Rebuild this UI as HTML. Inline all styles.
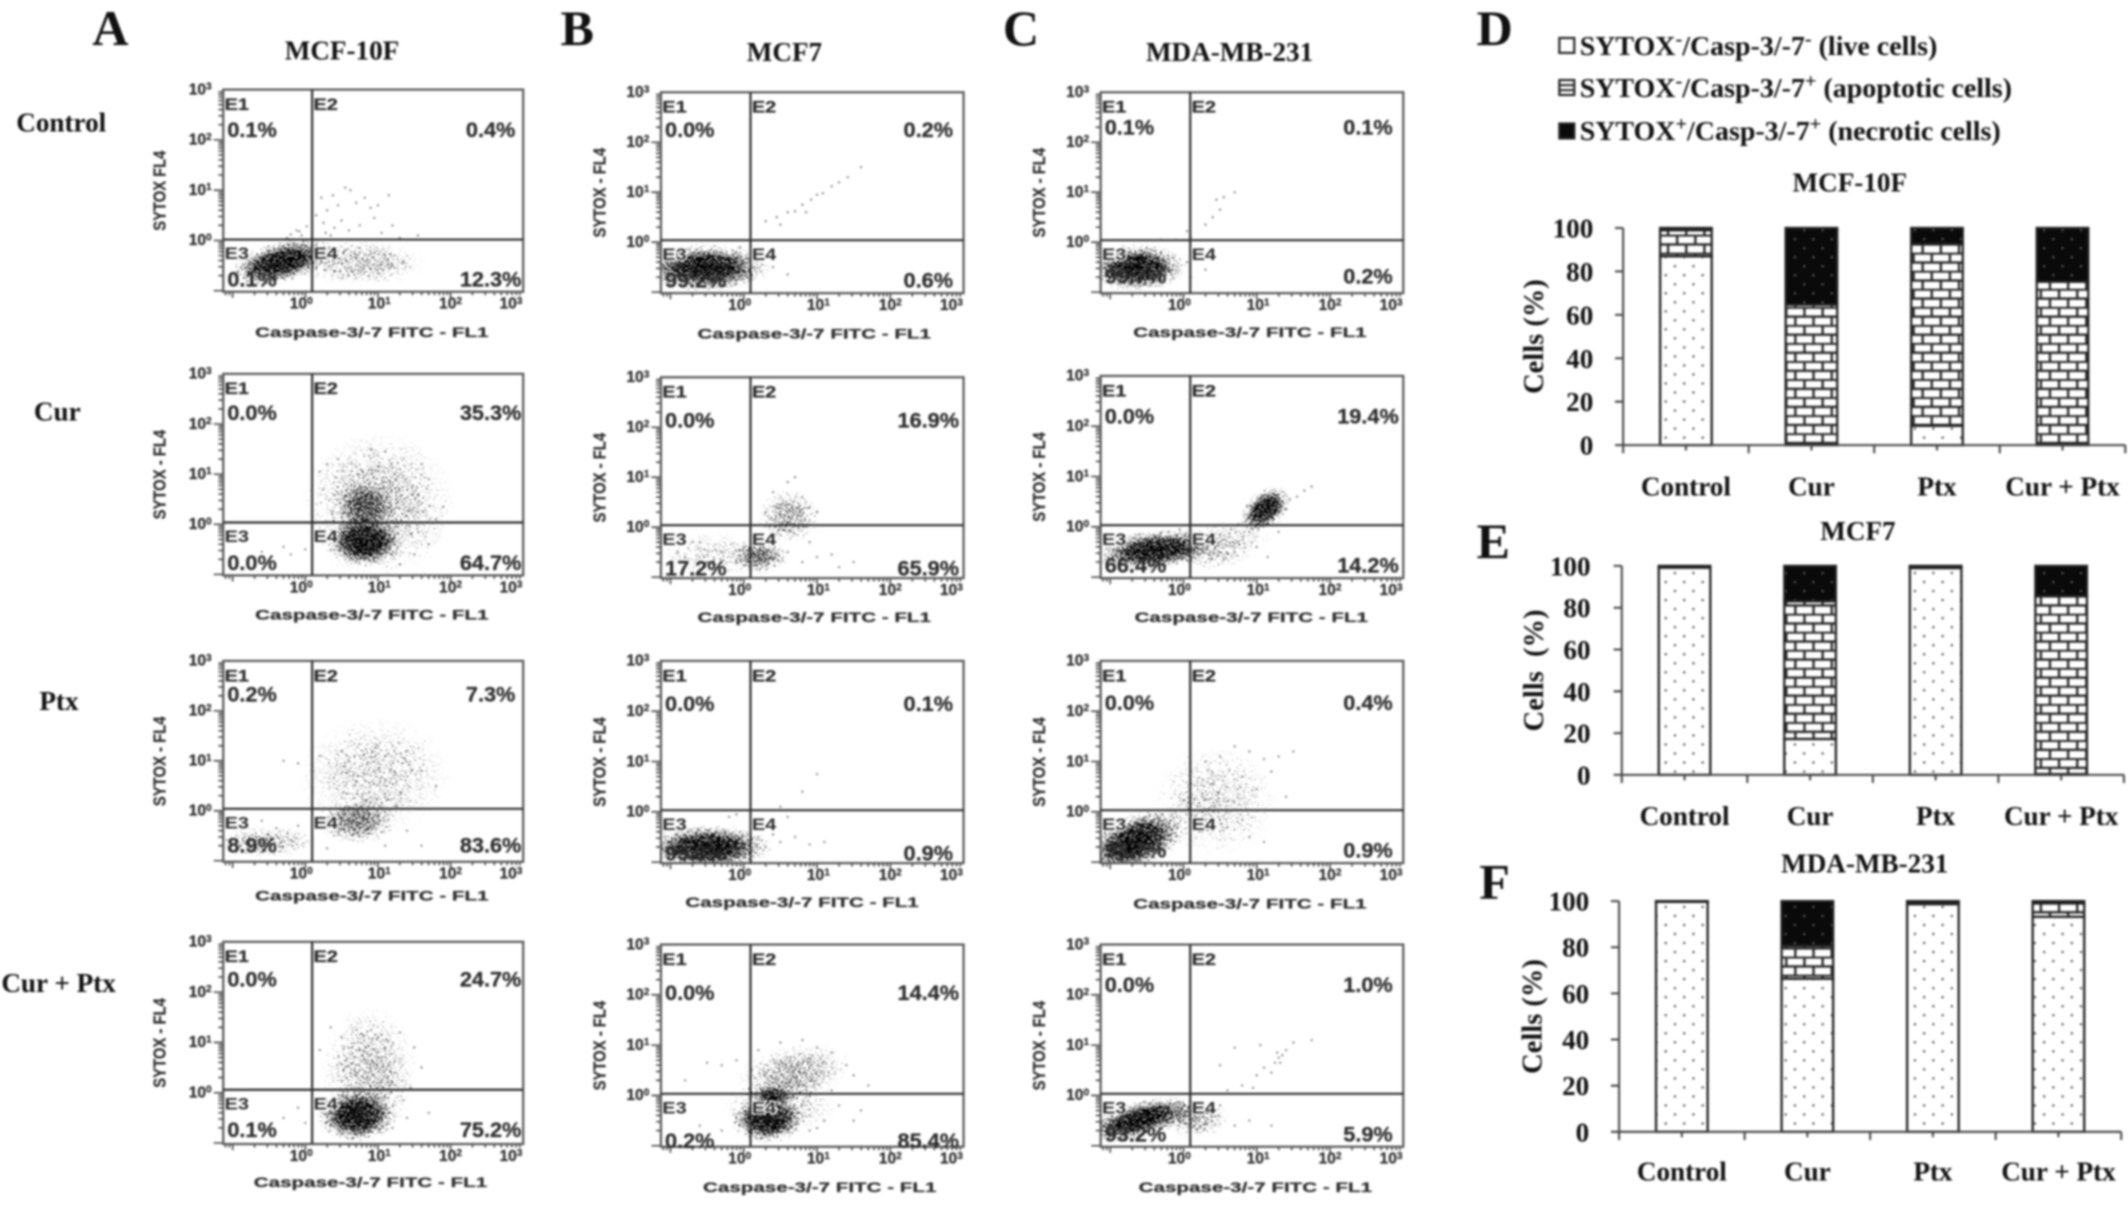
<!DOCTYPE html>
<html lang="en">
<head>
<meta charset="utf-8">
<title>Flow cytometry of SYTOX / Caspase-3/-7 and stacked cell-fraction bars</title>
<style>
html,body{margin:0;padding:0;background:#fff;width:2128px;height:1207px;overflow:hidden}
#figure{display:block;width:2128px;height:1207px;filter:blur(1.05px)}
.serif{font-family:"Liberation Serif",serif;font-weight:bold;fill:#111}
.sans{font-family:"Liberation Sans",sans-serif;font-weight:bold;fill:#2c2c2c;stroke:#2c2c2c;stroke-width:0.18px}
</style>
</head>
<body>
<svg id="figure" xmlns="http://www.w3.org/2000/svg" viewBox="0 0 1568 889.4" preserveAspectRatio="none">
  <defs id="defs">
    <filter id="grain" filterUnits="userSpaceOnUse" x="0" y="0" width="1568" height="890" color-interpolation-filters="sRGB">
      <feTurbulence type="fractalNoise" baseFrequency="0.85" numOctaves="1" seed="7" result="n"/>
      <feColorMatrix in="n" type="matrix" values="0 0 0 0 0  0 0 0 0 0  0 0 0 0 0  2.6 0 0 0 -0.8" result="na"/>
      <feComposite in="SourceAlpha" in2="na" operator="arithmetic" k1="0" k2="1" k3="1" k4="-1" result="sum"/>
      <feComponentTransfer in="sum"><feFuncA type="linear" slope="5" intercept="0"/></feComponentTransfer>
    </filter>
    <radialGradient id="clusterFade">
      <stop offset="0" stop-color="#000" stop-opacity="1"/>
      <stop offset="0.45" stop-color="#000" stop-opacity="0.8"/>
      <stop offset="0.75" stop-color="#000" stop-opacity="0.32"/>
      <stop offset="1" stop-color="#000" stop-opacity="0"/>
    </radialGradient>
    <pattern id="dotsPattern" patternUnits="userSpaceOnUse" width="13.6" height="13.3">
      <rect width="13.6" height="13.3" fill="#fff"/>
      <circle cx="3.4" cy="3.3" r="0.85" fill="#444"/>
      <circle cx="10.2" cy="9.95" r="0.85" fill="#444"/>
    </pattern>
    <pattern id="bricksPattern" patternUnits="userSpaceOnUse" width="13.4" height="13.3">
      <rect width="13.4" height="13.3" fill="#fff"/>
      <path d="M0 0.6H13.4M0 7.25H13.4M3 0.6V7.25M9.7 7.25V13.3" stroke="#222" stroke-width="1.7" fill="none"/>
    </pattern>
    <pattern id="necroticPattern" patternUnits="userSpaceOnUse" width="13.6" height="13.3">
      <rect width="13.6" height="13.3" fill="#0a0a0a"/>
      <circle cx="3.4" cy="3.3" r="0.7" fill="#888"/>
      <circle cx="10.2" cy="9.95" r="0.7" fill="#888"/>
    </pattern>
  </defs>

  <rect width="1568" height="890" fill="#fff"/>
  <g id="clusterLayer" filter="url(#grain)"></g>
  <g id="flowLayer"></g>
  <g id="barLayer"></g>

  <g class="serif" font-size="37">
    <text class="serif" x="68" y="33">A</text>
    <text class="serif" x="413" y="33">B</text>
    <text class="serif" x="739" y="33">C</text>
    <text class="serif" x="1088" y="33">D</text>
    <text class="serif" x="1088" y="411">E</text>
    <text class="serif" x="1090" y="662">F</text>
  </g>
  <g font-size="20" text-anchor="middle">
    <text class="serif" x="252" y="44">MCF-10F</text>
    <text class="serif" x="578" y="45">MCF7</text>
    <text class="serif" x="906" y="45">MDA-MB-231</text>
    <text class="serif" x="1363" y="141">MCF-10F</text>
    <text class="serif" x="1369" y="398">MCF7</text>
    <text class="serif" x="1374" y="643">MDA-MB-231</text>
  </g>
  <g font-size="20">
    <text class="serif" x="12" y="97">Control</text>
    <text class="serif" x="25" y="310">Cur</text>
    <text class="serif" x="29" y="523">Ptx</text>
    <text class="serif" x="1" y="731">Cur + Ptx</text>
  </g>
  <g font-size="20.6">
    <rect x="1149" y="28" width="11" height="11" fill="#fff" stroke="#222" stroke-width="1.6"/>
    <text class="serif" x="1164" y="40.5">SYTOX<tspan dy="-7" font-size="15">-</tspan><tspan dy="7">/Casp-3/-7</tspan><tspan dy="-7" font-size="15">-</tspan><tspan dy="7"> (live cells)</tspan></text>
    <rect x="1149" y="59" width="11" height="11" fill="#fff" stroke="#222" stroke-width="1.6"/>
    <path d="M1149 62.7H1160M1149 66.4H1160" stroke="#222" stroke-width="1.5"/>
    <text class="serif" x="1164" y="71.5">SYTOX<tspan dy="-7" font-size="15">-</tspan><tspan dy="7">/Casp-3/-7</tspan><tspan dy="-7" font-size="15">+</tspan><tspan dy="7"> (apoptotic cells)</tspan></text>
    <rect x="1149" y="91" width="11" height="11" fill="#0a0a0a" stroke="#222" stroke-width="1.6"/>
    <text class="serif" x="1164" y="103">SYTOX<tspan dy="-7" font-size="15">+</tspan><tspan dy="7">/Casp-3/-7</tspan><tspan dy="-7" font-size="15">+</tspan><tspan dy="7"> (necrotic cells)</tspan></text>
  </g>
</svg>

<script>
/* ---------- flow-cytometry data (log10 decades) ---------- */
const flowPanelIds = ['a-control','a-cur','a-ptx','a-cur-ptx','b-control','b-cur','b-ptx','b-cur-ptx','c-control','c-cur','c-ptx','c-cur-ptx'];
const quadrantLabels = ['E1','E2','E3','E4'];
const xTickExponents = ['0','1','2','3'];
const yTickExponents = ['0','1','2','3'];
const minorMultipliers = [2,3,4,5,6,7,8,9];
const xAxisTitle = 'Caspase-3/-7 FITC - FL1';
const yAxisTitles = ['SYTOX FL4','SYTOX - FL4','SYTOX - FL4','SYTOX - FL4','SYTOX - FL4','SYTOX - FL4','SYTOX - FL4','SYTOX - FL4','SYTOX - FL4','SYTOX - FL4','SYTOX - FL4','SYTOX - FL4'];

const percentE1 = ['0.1%','0.0%','0.2%','0.0%','0.0%','0.0%','0.0%','0.0%','0.1%','0.0%','0.0%','0.0%'];
const percentE2 = ['0.4%','35.3%','7.3%','24.7%','0.2%','16.9%','0.1%','14.4%','0.1%','19.4%','0.4%','1.0%'];
const percentE3 = ['0.1%','0.0%','8.9%','0.1%','99.2%','17.2%','99.0%','0.2%','99.7%','66.4%','98.7%','93.2%'];
const percentE4 = ['12.3%','64.7%','83.6%','75.2%','0.6%','65.9%','0.9%','85.4%','0.2%','14.2%','0.9%','5.9%'];

/* density clouds: centre (decades) */
const cloudX = [[-0.33,0.75],[0.81,0.82,1.0],[0.7,0.95,-0.55],[0.7,0.89],[-0.52],[0.23,0.62,-0.4],[-0.48],[0.32,0.69,0.4,0.5],[-0.63],[-0.4,1.12,0.35,0.6],[-0.66,0.43],[-0.6,0.15]];
const cloudY = [[-0.43,-0.45],[-0.35,0.35,0.4],[-0.22,0.72,-0.62],[-0.46,0.4],[-0.51],[-0.59,0.21,-0.55],[-0.7],[-0.48,0.45,0,-0.2],[-0.51],[-0.46,0.35,-0.46,-0.2],[-0.59,0.21],[-0.48,-0.45]];
/* density clouds: spread (decades), tilt (deg), density 0-1 */
const cloudSpreadX = [[0.56,0.7],[0.4,0.3,0.8],[0.42,0.8,0.55],[0.42,0.5],[0.68],[0.3,0.32,0.6],[0.66],[0.38,0.6,0.22,0.6],[0.52],[0.62,0.3,0.48,0.5],[0.56,0.65],[0.6,0.36]];
const cloudSpreadY = [[0.32,0.34],[0.38,0.4,1.1],[0.34,0.9,0.24],[0.4,1.0],[0.36],[0.26,0.42,0.35],[0.34],[0.36,0.42,0.14,0.45],[0.36],[0.3,0.28,0.3,0.25],[0.42,0.85],[0.28,0.3]];
const cloudTilt = [[-14,0],[0,0,0],[0,0,0],[0,0],[0],[0,0,0],[0],[0,-10,0,0],[0],[-6,-38,0,0],[-22,0],[-16,0]];
const cloudDensity = [[1,0.36],[1,0.6,0.36],[0.56,0.27,0.38],[1,0.36],[1],[0.6,0.46,0.22],[1],[1,0.42,0.85,0.3],[1],[1,1,0.34,0.2],[1,0.25],[1,0.46]];

/* individual outlying events */
const eventsX = [
 [0.25,0.3,0.38,0.45,0.55,0.62,0.7,0.82,0.9,1.0,1.15,0.28,0.4,0.5,0.35,0.6,0.75,1.05,1.3,1.55,0.95,1.2,-0.05,-0.12,-0.2,-0.25,0.02,-0.08,0.15,0.22,0.4,0.6,0.8,1,1.2,1.35,0.55,0.75,0.95,1.1],
 [-0.6,-0.3,-0.2,0,0.1,1.8,1.9,1.7,0.2,0.9,1.1,1.6,1.5,1.7,1.3,1.45,0.3,0.45,0.25,1.55],
 [0.2,-0.3,-0.1,0.5,1,1.4,1.6,1.8,-0.6,-0.9,-0.1,1.4,1.6,1.1,1.25,0.1,-0.4,0.3],
 [0.5,0.8,1,1.3,1.5,1.6,1.2,-0.6,-0.3,0,-0.1,1.4,1.7,1.2,0.2,0.35,1.35,1.45],
 [0.3,0.45,0.6,0.7,0.8,0.92,1,1.08,1.2,1.3,1.42,1.6,0.5,0.85,-0.1,0.1,0.25,0.4,0.6,-0.05],
 [-0.8,-0.5,-0.3,-0.1,0,-0.6,0.1,0.6,0.8,1,1.2,1.5,0.9,0.4,0.6,0.8,0.9,1,0.7,0.3,-0.9,-0.7,1.3],
 [0.2,0.3,0.5,0.7,0.9,0.35,0.5,0.8,1.0,0.6,1.1,-0.2,-0.1,0.15,0.4],
 [-0.3,-0.1,0.2,0.5,0.8,1,1.2,1.4,1.5,1.7,1.3,1.5,1.1,0.9,-0.6,-0.3,-0.1,-0.8,-0.5,1.6,1.2,1.0],
 [0.45,0.55,0.7,0.5,0.4,0.3,0.1,0.05,-0.1,-0.3,0.2,0.3,0.05,0.1],
 [0.5,0.65,0.75,0.85,0.95,1.3,1.45,1.55,1.65,1.75,1.4,1.2,0.3,0.7,1,1.15,1.3,1.05,-0.6,-0.2,-0.05,0.9,0.55],
 [0.1,0.3,0.5,0.7,0.9,1.1,1.3,1.5,1.2,0.8,0.4,1,1.4,0.6,0.9,1.1],
 [0.6,0.8,1,1.1,1.25,1.3,1.35,1.4,1.2,0.95,1.5,0.5,0.7,1.05,1.75,0.5,0.9,1.2,0.7,1.32,1.28]
];
const eventsY = [
 [0.35,0.6,0.9,0.7,1.05,1.0,0.75,0.85,0.65,0.7,0.9,0.15,0.25,0.4,0.1,0.2,0.3,0.15,0.05,0.1,0.45,0.3,0.1,0.2,0.12,0.05,0.28,0.18,0.5,0.85,-0.6,-0.7,-0.55,-0.65,-0.5,-0.42,-0.2,-0.15,-0.25,-0.3],
 [-0.55,-0.45,-0.6,-0.5,-0.3,0.1,0.35,0.9,1.05,1.5,1.45,1.2,-0.6,-0.4,-0.8,-0.2,1.2,1.3,0.7,0.6],
 [1.1,1,0.95,1.2,1.3,1.2,0.8,0.5,-0.2,-0.7,-0.3,-0.4,-0.7,-0.7,0.1,0.4,-0.35,-0.75],
 [1.1,1.15,1.1,1.2,0.9,0.5,0.2,-0.7,-0.5,-0.6,-0.3,-0.5,-0.4,-0.7,0.85,1.3,-0.15,0.1],
 [0.42,0.5,0.6,0.62,0.75,0.85,0.95,0.98,1.12,1.2,1.3,1.5,0.35,0.6,-0.2,-0.6,-0.45,-0.5,-0.65,-0.1],
 [-0.6,-0.7,-0.5,-0.7,-0.4,-0.3,-0.2,-0.5,-0.7,-0.6,-0.55,-0.7,-0.3,0.7,0.9,0.6,0.4,0.3,1,0.3,-0.5,-0.3,-0.8],
 [-0.5,-0.7,-0.6,-0.5,-0.65,-0.3,0.1,0.4,0.75,-0.1,-0.6,-0.1,-0.05,-0.2,-0.45],
 [0.6,0.7,0.9,1.05,1.1,0.95,0.85,0.6,0.4,0.2,-0.2,-0.5,-0.5,-0.7,-0.6,-0.7,-0.45,0.3,0.65,-0.3,0.1,-0.65],
 [0.85,0.9,1,0.65,0.5,0.35,0.1,0.22,0.05,0.05,-0.35,-0.55,-0.4,-0.7],
 [-0.15,-0.05,0.05,0.1,0.2,0.45,0.55,0.6,0.72,0.8,0.35,0.6,-0.3,-0.5,-0.4,-0.6,-0.1,0.55,-0.15,-0.1,-0.05,-0.1,-0.65],
 [0.8,1,1.1,1.3,1.2,1.05,1.1,1.2,0.8,0.7,0.55,0.45,0.3,-0.3,-0.5,-0.6],
 [0.1,0.2,0.4,0.55,0.65,0.75,0.8,0.9,0.45,0.15,1.05,0.6,0.95,1,1.1,-0.2,-0.5,-0.6,-0.6,0.65,0.85]
];

/* ---------- stacked-bar data (% of cells) ---------- */
const barCategories = ['Control','Cur','Ptx','Cur + Ptx'];
const barAxisTicks = [0,20,40,60,80,100];
const liveD = [87,0.3,8.9,0.3];
const apoptoticD = [12,64.4,83.8,75];
const necroticD = [1,35.3,7.3,24.7];
const liveE = [99.2,17.2,99,0.4];
const apoptoticE = [0.6,65.9,0.9,85.2];
const necroticE = [0.2,16.9,0.1,14.4];
const liveF = [99.7,66.4,98.7,93.2];
const apoptoticF = [0.2,14.2,0.9,5.8];
const necroticF = [0.1,19.4,0.4,1];

/* ---------- layout (drawing frame, not data) ---------- */
const NS = 'http://www.w3.org/2000/svg';
const X_MIN = -1.13, X_MAX = 3, Y_MIN = -1.02, Y_MAX = 3;
const flowFrames = [
 {l:164.5,t:66,w:221,h:149,gx:230,gy:176.5,cap:274,cd:0,sy:122,up:35,lo:-4},
 {l:164.5,t:275.5,w:221,h:148.5,gx:230,gy:385,cap:274,cd:-1,sy:122,up:34,lo:-4},
 {l:164.5,t:487,w:221,h:148,gx:230,gy:596,cap:274,cd:-5,sy:122,up:30,lo:-7},
 {l:164.5,t:694,w:221,h:149,gx:230,gy:803,cap:273,cd:-2,sy:122,up:33,lo:-5},
 {l:487,t:68,w:223,h:148,gx:553,gy:177,cap:600,cd:0,sy:446,up:33,lo:-4},
 {l:487,t:278,w:223,h:148,gx:553,gy:387,cap:600,cd:-1,sy:446,up:37,lo:-2},
 {l:487,t:487,w:223,h:149,gx:553,gy:597,cap:591,cd:-1,sy:446,up:37,lo:-2},
 {l:487,t:696,w:223,h:149,gx:553,gy:806,cap:604,cd:0,sy:446,up:41,lo:1},
 {l:811,t:68,w:223,h:148,gx:877,gy:177,cap:921,cd:-1,sy:770,up:31,lo:-7},
 {l:811,t:277,w:223,h:149,gx:877,gy:387,cap:922,cd:-1,sy:770,up:35,lo:-4},
 {l:811,t:487,w:223,h:149,gx:877,gy:597,cap:921,cd:0,sy:770,up:36,lo:-4},
 {l:811,t:696,w:223,h:149,gx:877,gy:806,cap:925,cd:0,sy:770,up:35,lo:-4}
];
const barFrames = [
 {id:'d',ax:1196,top:168,bottom:328,yEnd:1174,labelY:365,titleX:1137,live:liveD,apo:apoptoticD,nec:necroticD,yTitle:'Cells (%)'},
 {id:'e',ax:1195,top:417,bottom:571,yEnd:1172,labelY:608,titleX:1137,live:liveE,apo:apoptoticE,nec:necroticE,yTitle:'Cells  (%)'},
 {id:'f',ax:1193,top:664,bottom:834,yEnd:1171,labelY:870,titleX:1136,live:liveF,apo:apoptoticF,nec:necroticF,yTitle:'Cells (%)'}
];
const BAND = 92.5, BAR_W = 38;

function mk(tag, attrs, parent) {
  const el = document.createElementNS(NS, tag);
  for (const k in attrs) el.setAttribute(k, attrs[k]);
  parent.appendChild(el);
  return el;
}
function xScale(f, v) { return f.l + (v - X_MIN) / (X_MAX - X_MIN) * f.w; }
function yScale(f, v) { return f.t + f.h - (v - Y_MIN) / (Y_MAX - Y_MIN) * f.h; }
function decadeLabel(parent, exp, x, y, anchor) {
  const t = mk('text', {x:x, y:y, class:'sans', 'font-size':11.5, 'text-anchor':anchor}, parent);
  
  
  t.textContent = '10';
  const s = mk('tspan', {dy:-3.5, 'font-size':7.5}, t);
  s.textContent = exp;
  return t;
}

const defs = document.getElementById('defs');
const clusterLayer = document.getElementById('clusterLayer');
const flowLayer = document.getElementById('flowLayer');
const barLayer = document.getElementById('barLayer');

function drawClouds(i) {
  const f = flowFrames[i];
  const clip = mk('clipPath', {id:'clip' + i}, defs);
  mk('rect', {x:f.l, y:f.t, width:f.w, height:f.h}, clip);
  const g = mk('g', {'clip-path':'url(#clip' + i + ')'}, clusterLayer);
  
  
  cloudX[i].forEach(function (cx, k) {
    const px = xScale(f, cx), py = yScale(f, cloudY[i][k]);
    const rx = cloudSpreadX[i][k] / (X_MAX - X_MIN) * f.w;
    const ry = cloudSpreadY[i][k] / (Y_MAX - Y_MIN) * f.h;
    const e = mk('ellipse', {cx:px, cy:py, rx:rx * 1.35, ry:ry * 1.35, fill:'url(#clusterFade)', opacity:cloudDensity[i][k], transform:'rotate(' + cloudTilt[i][k] + ' ' + px + ' ' + py + ')'}, g);
    
    
  });
}

function drawFlowPanel(i) {
  const f = flowFrames[i];
  const g = mk('g', {}, flowLayer);
  
  

  eventsX[i].forEach(function (x, k) {
    const c = mk('circle', {cx:xScale(f, x), cy:yScale(f, eventsY[i][k]), r:0.75, fill:'#333', opacity:0.75}, g);
    
    
  });

  /* minor + major log ticks */
  let tickPath = '';
  for (let d = -2; d < 3; d++) {
    [1].concat(minorMultipliers).forEach(function (m) {
      const v = d + Math.log10(m);
      const len = m === 1 ? 4.5 : 2.6;
      if (v >= X_MIN && v <= X_MAX) { const px = xScale(f, v); tickPath += 'M' + px + ' ' + (f.t + f.h) + 'v' + len; }
      if (v >= Y_MIN && v <= Y_MAX) { const py = yScale(f, v); tickPath += 'M' + f.l + ' ' + py + 'h' + (m === 1 ? -7 : -3.6); }
    });
  }
  const ticks = mk('path', {d:tickPath, stroke:'#444', 'stroke-width':1.15, fill:'none'}, g);
  
  

  const frame = mk('rect', {x:f.l, y:f.t, width:f.w, height:f.h, fill:'none', stroke:'#555', 'stroke-width':1.6}, g);
  
  
  const gateV = mk('line', {x1:f.gx, x2:f.gx, y1:f.t, y2:f.t + f.h, stroke:'#2c2c2c', 'stroke-width':1.6}, g);
  
  
  const gateH = mk('line', {x1:f.l, x2:f.l + f.w, y1:f.gy, y2:f.gy, stroke:'#2c2c2c', 'stroke-width':1.6}, g);
  
  

  /* quadrant names */
  const qx = [f.l + 1, f.gx + 1, f.l + 1, f.gx + 1];
  const qy = [f.t + 15, f.t + 15, f.gy + 14.5, f.gy + 14.5];
  quadrantLabels.forEach(function (q, k) {
    const t = mk('text', {x:qx[k], y:qy[k], class:'sans', 'font-size':12, textLength:18, lengthAdjust:'spacingAndGlyphs'}, g);
    
    
    t.textContent = q;
    if (k > 1) {
      t.setAttribute('style', 'paint-order:stroke;stroke:#fff;stroke-width:1.8px');
    }
  });

  /* printed percentages */
  const pVals = [percentE1[i], percentE2[i], percentE3[i], percentE4[i]];
  const pX = [f.l + 3, f.l + 197, f.l + 3, f.l + 197];
  const pY = [f.t + f.up, f.t + f.up, f.t + f.h + f.lo, f.t + f.h + f.lo];
  const pA = ['start', 'middle', 'start', 'middle'];
  pVals.forEach(function (p, k) {
    const t = mk('text', {x:pX[k], y:pY[k], class:'sans', 'font-size':16, 'text-anchor':pA[k]}, g);
    
    
    t.textContent = p;
  });

  /* tick labels */
  const nudge = [-3, 1, 0, -9];
  xTickExponents.forEach(function (e, k) {
    decadeLabel(g, e, xScale(f, Number(e)) + nudge[k], f.t + f.h + 12.5, 'middle');
  });
  yTickExponents.forEach(function (e) {
    decadeLabel(g, e, f.l - 8.5, yScale(f, Number(e)) + 3.5, 'end');
  });

  const capt = mk('text', {x:f.cap, y:f.t + f.h + 33.5 + f.cd, class:'sans', 'font-size':10.5, 'text-anchor':'middle', textLength:172, lengthAdjust:'spacingAndGlyphs'}, g);
  
  
  capt.textContent = xAxisTitle;

  const cy = f.t + f.h / 2;
  const sty = mk('text', {x:f.sy, y:cy, class:'sans', 'font-size':13, 'text-anchor':'middle', transform:'rotate(-90 ' + f.sy + ' ' + cy + ')', textLength:i === 0 ? 59 : 66, lengthAdjust:'spacingAndGlyphs'}, g);
  
  
  sty.textContent = yAxisTitles[i];
}

function drawBarChart(f) {
  const g = mk('g', {}, barLayer);
  
  
  const y = function (v) { return f.bottom - v / 100 * (f.bottom - f.top); };
  const xc = function (k) { return f.ax + BAND * (k + 0.5); };

  barCategories.forEach(function (cat, k) {
    let base = 0;
    const segs = [[f.live[k], 'dotsPattern', 'live'], [f.apo[k], 'bricksPattern', 'apoptotic'], [f.nec[k], 'necroticPattern', 'necrotic']];
    segs.forEach(function (s) {
      const rect = mk('rect', {x:xc(k) - BAR_W / 2, y:y(base + s[0]), width:BAR_W, height:y(base) - y(base + s[0]), fill:'url(#' + s[1] + ')', stroke:'#222', 'stroke-width':1.7}, g);
      
      
      base += s[0];
    });
    const lab = mk('text', {x:xc(k), y:f.labelY, class:'serif', 'font-size':20, 'text-anchor':'middle'}, g);
    
    
    lab.textContent = cat;
  });

  let axisPath = 'M' + f.ax + ' ' + f.top + 'V' + f.bottom + 'M' + (f.ax - 6) + ' ' + f.bottom + 'H' + (f.ax + BAND * barCategories.length);
  for (let k = 0; k <= barCategories.length; k++) {
    axisPath += 'M' + (f.ax + BAND * k) + ' ' + f.bottom + 'v6';
    if (k < barCategories.length) axisPath += 'M' + xc(k) + ' ' + f.bottom + 'v4';
  }
  barAxisTicks.forEach(function (v) {
    axisPath += 'M' + (f.ax - 6) + ' ' + y(v) + 'H' + f.ax;
    const t = mk('text', {x:f.yEnd, y:y(v) + 7, class:'serif', 'font-size':20, 'text-anchor':'end'}, g);
    
    
    t.textContent = String(v);
  });
  const axes = mk('path', {d:axisPath, stroke:'#444', 'stroke-width':1.5, fill:'none'}, g);
  
  

  const cy = (f.top + f.bottom) / 2;
  const yt = mk('text', {x:f.titleX, y:cy, class:'serif', 'font-size':21, 'text-anchor':'middle', transform:'rotate(-90 ' + f.titleX + ' ' + cy + ')', style:'white-space:pre'}, g);
  
  
  yt.textContent = f.yTitle;
}

flowFrames.forEach(function (f, i) { drawClouds(i); drawFlowPanel(i); });
barFrames.forEach(drawBarChart);
</script>
</body>
</html>
